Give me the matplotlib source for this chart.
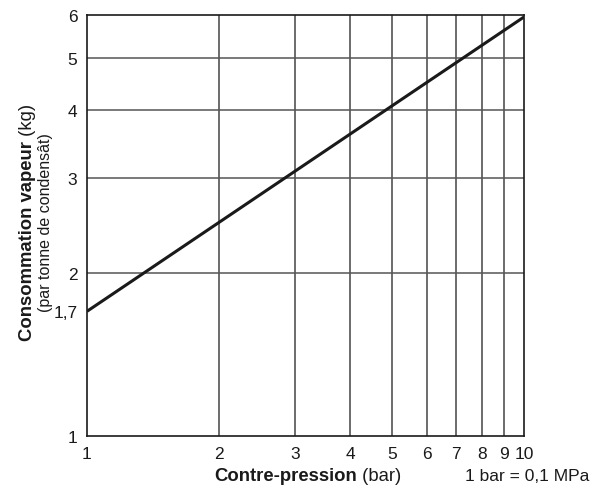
import matplotlib
matplotlib.use("Agg")
import matplotlib.pyplot as plt
from matplotlib.ticker import FixedLocator, NullLocator

plt.rcParams['font.family'] = ['Liberation Sans', 'DejaVu Sans']

# Data
pressure = [1, 10]            # bar
consumption = [1.7, 5.95]     # kg per tonne of condensate
x_ticks = [1, 2, 3, 4, 5, 6, 7, 8, 9, 10]
x_tick_labels = ["1", "2", "3", "4", "5", "6", "7", "8", "9", "10"]
y_ticks = [1, 1.7, 2, 3, 4, 5, 6]
y_tick_labels = ["1", "1,7", "2", "3", "4", "5", "6"]
y_grid = [2, 3, 4, 5]
x_grid = [2, 3, 4, 5, 6, 7, 8, 9]

fig = plt.figure(figsize=(5.99, 4.89), dpi=100)
ax = fig.add_axes([0.1452, 0.1063, 0.7296, 0.861])
ax.set_xscale('log')
ax.set_yscale('log')
ax.set_xlim(1, 10)
ax.set_ylim(1, 6)

for g in x_grid:
    ax.axvline(g, color='#444444', lw=1.1, zorder=1)
for g in y_grid:
    ax.axhline(g, color='#555555', lw=1.1, zorder=1)

ax.plot(pressure, consumption, color='#1a1a1a', lw=2.2, zorder=3, solid_capstyle='butt')

ax.xaxis.set_major_locator(FixedLocator(x_ticks))
ax.xaxis.set_minor_locator(NullLocator())
ax.set_xticklabels(x_tick_labels)
ax.yaxis.set_major_locator(FixedLocator(y_ticks))
ax.yaxis.set_minor_locator(NullLocator())
ax.set_yticklabels(y_tick_labels)
ax.tick_params(axis='both', length=0, labelsize=12.5, colors='#1a1a1a')
ax.tick_params(axis='x', pad=7)
ax.tick_params(axis='y', pad=7)

for s in ax.spines.values():
    s.set_color('#1a1a1a')
    s.set_linewidth(1.2)

renderer = fig.canvas.get_renderer()
W, H = fig.bbox.width, fig.bbox.height

# x label: bold + regular, centred at 0.513
xb = fig.text(0, 0.016, "Contre-pression", fontweight='bold', fontsize=13.3,
              ha='left', va='baseline', color='#1a1a1a')
xr = fig.text(0, 0.016, " (bar)", fontsize=13.3, ha='left', va='baseline', color='#1a1a1a')
wb = xb.get_window_extent(renderer).width / W
wr = xr.get_window_extent(renderer).width / W
x0 = 0.513 - (wb + wr) / 2
xb.set_x(x0)
xr.set_x(x0 + wb)

# y label: bold + regular, rotated, centred at 0.545
yb = fig.text(0.046, 0, "Consommation vapeur", fontweight='bold', fontsize=13.3,
              rotation=90, ha='center', va='bottom', rotation_mode='default', color='#1a1a1a')
yr = fig.text(0.046, 0, " (kg)", fontsize=13.3, rotation=90, ha='center', va='bottom',
              color='#1a1a1a')
hb = yb.get_window_extent(renderer).height / H
hr = yr.get_window_extent(renderer).height / H
y0 = 0.545 - (hb + hr) / 2
yb.set_y(y0)
yr.set_y(y0 + hb)

fig.text(0.076, 0.545, "(par tonne de condensât)", rotation=90,
         ha='center', va='center', fontsize=11.5, color='#1a1a1a')
fig.text(0.984, 0.016, "1 bar = 0,1 MPa", ha='right', va='baseline',
         fontsize=12.5, color='#1a1a1a')

fig.savefig("out.png", dpi=100)
